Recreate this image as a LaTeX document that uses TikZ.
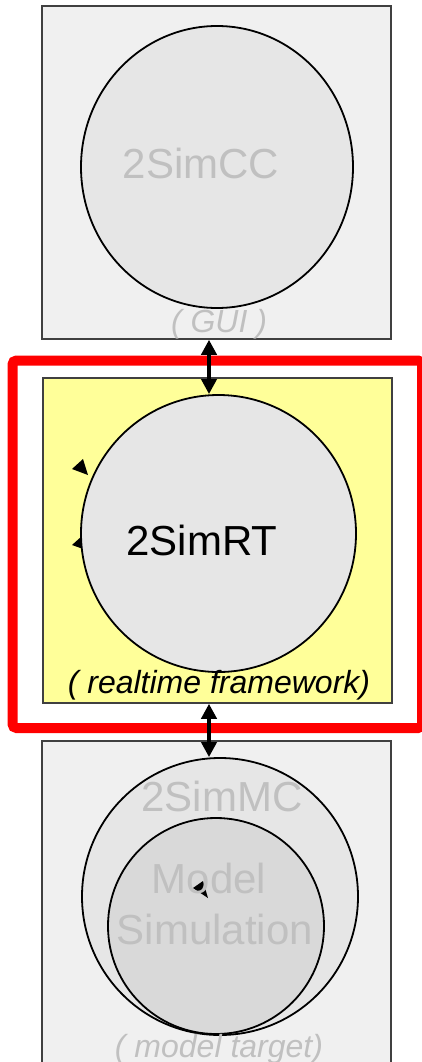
\documentclass[tikz,border=0pt]{standalone}
\usepackage{fontspec}
\setmainfont{Liberation Sans}
\usetikzlibrary{shapes.geometric, arrows.meta}
\definecolor{panelgray}{HTML}{F0F0F0}
\definecolor{bubblegray}{HTML}{E6E6E6}
\definecolor{innergray}{HTML}{D9D9D9}
\definecolor{rtyellow}{HTML}{FFFF99}
\definecolor{faintgray}{HTML}{C0C0C0}
\begin{document}
\begin{tikzpicture}[x=1pt, y=-1pt,
    panel/.style={rectangle, draw=black!75, line width=1.5pt, fill=panelgray, minimum width=349pt, minimum height=333pt, inner sep=0pt},
    bubble/.style={ellipse, draw=black, line width=1.8pt, fill=bubblegray, inner sep=0pt},
    bigtext/.style={font=\fontsize{42}{50}\selectfont, anchor=base, inner sep=0pt},
    notetext/.style={font=\fontsize{32}{38}\selectfont\itshape, anchor=base, inner sep=0pt},
    linkarrow/.style={{Triangle[length=15pt, width=15pt]}-{Triangle[length=15pt, width=15pt]}, line width=4pt},
]
\useasboundingbox (0,0) rectangle (422,1062);

\node[panel] (guibox) at (216.5,172.5) {};
\node[panel, fill=rtyellow, minimum height=325pt] (rtbox) at (217.5,540.5) {};
\node[panel] (mcbox) at (216.5,907.5) {};
\node[rectangle, draw=red, line width=10pt, rounded corners=4pt, minimum width=409.5pt, minimum height=367.5pt] (focus) at (217.25,544.25) {};

% stray tips
\fill (72,469) -- (83,459) -- (88,475) -- cycle;
\fill (72,545) -- (82,536) -- (86,550) -- cycle;

\node[bubble, minimum width=272pt, minimum height=282pt] (cc) at (217,167) {};
\node[bubble, minimum width=275pt, minimum height=277pt] (rt) at (218.5,533.5) {};
\node[bubble, minimum width=276pt, minimum height=277pt] (mc) at (220,896.5) {};
\node[bubble, fill=innergray, minimum width=216pt, minimum height=216pt] (sim) at (216,926) {};
\fill (193,888) -- (203,881) -- (208,898) -- cycle;

\node[bigtext, faintgray] (cclabel) at (201,178) {2SimCC};
\node[bigtext] (rtlabel) at (202,555) {2SimRT};
\node[bigtext, faintgray] (mclabel) at (222,811) {2SimMC};
\node[bigtext, faintgray] (modellabel) at (209,893) {Model};
\node[bigtext, faintgray] (simlabel) at (215,944) {Simulation};

\node[notetext, faintgray] (guinote) at (219,332) {( GUI )};
\node[notetext] (rtnote) at (219,693) {( realtime framework)};
\node[notetext, faintgray] (mcnote) at (219,1057) {( model target)};

\draw[linkarrow] ([xshift=-7.5pt]guibox.south) -- ([xshift=-9.5pt]rt.north);
\draw[linkarrow] ([xshift=-8.5pt]rtbox.south) -- ([xshift=-11pt]mc.north);
\end{tikzpicture}
\end{document}
